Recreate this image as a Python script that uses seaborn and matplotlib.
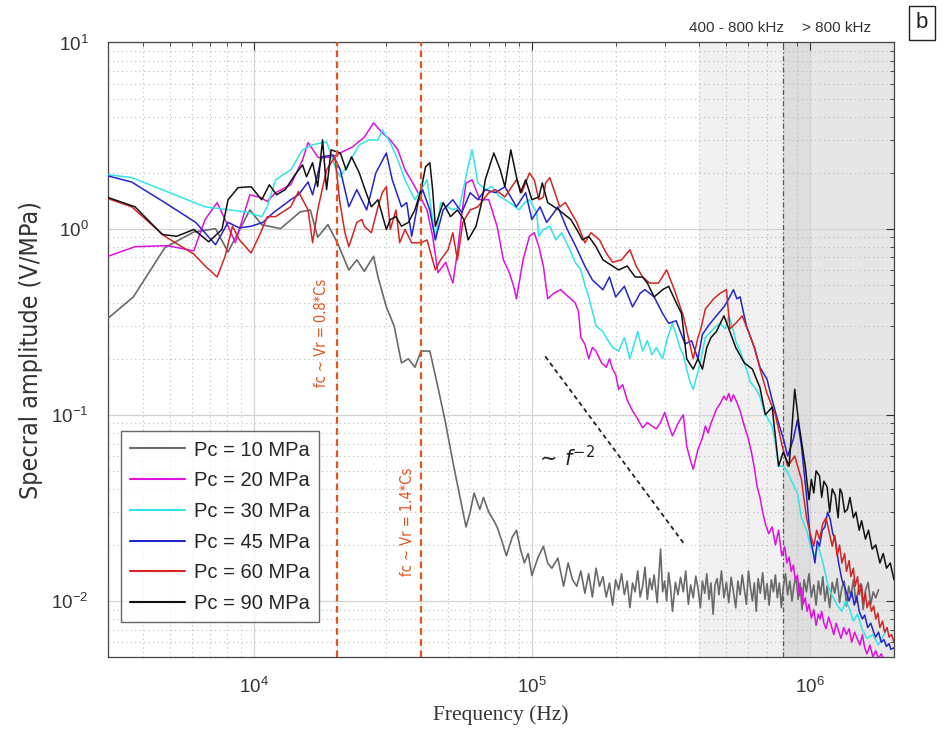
import numpy as np
import pandas as pd
import matplotlib
matplotlib.use("Agg")
import matplotlib.pyplot as plt
from matplotlib.ticker import LogLocator, NullFormatter
import seaborn as sns

# ---------------------------------------------------------------- data
# frequencies in kHz, spectral amplitudes in V/MPa
PC10_F = [3.0, 3.7, 4.8, 6.1, 7.3, 8.1, 9.7, 10.7, 12.5, 14.7, 16.0, 17.0, 18.5, 20.0, 22.0, 23.5, 25.0, 27.0, 28.0,
          30.0, 32.0, 34.0, 36.0, 38.0, 40.0, 43.0, 46.0, 49.0, 52.0, 55.0, 58.0, 60, 62, 65, 67, 70, 73, 75, 78, 81,
          85, 88, 91, 94, 97, 100, 105, 110, 114, 118, 124, 130, 135, 140, 145, 150, 155, 160, 165, 170, 175, 180,
          185, 190, 195, 200, 205, 210, 215, 220, 225, 230, 235, 240, 245, 250, 255, 260, 265, 270, 275, 282, 290,
          295, 300, 305, 310, 315, 320, 328, 335, 342, 350, 357, 365, 372, 380, 388, 395, 403, 410, 418, 425, 433,
          440, 448, 455, 463, 470, 480, 490, 500, 510, 520, 530, 540, 550, 560, 570, 580, 590, 600, 610, 620, 630,
          640, 650, 662, 675, 688, 700, 712, 725, 738, 750, 762, 775, 788, 800, 815, 830, 845, 860, 875, 890, 905,
          920, 935, 950, 970, 990, 1010, 1030, 1050, 1070, 1090, 1110, 1130, 1150, 1175, 1200, 1225, 1250, 1275,
          1300, 1325, 1350, 1375, 1400, 1430, 1460, 1490, 1520, 1550, 1580, 1615, 1650, 1685, 1720, 1760, 1800,
          1840, 1880, 1920, 1960, 2000]
PC10_A = [0.33, 0.43, 0.79, 0.96, 1.0, 0.75, 1.26, 1.05, 1.0, 1.23, 1.26, 0.9, 1.05, 0.84, 0.6, 0.68, 0.59, 0.71, 0.55,
          0.38, 0.30, 0.19, 0.20, 0.18, 0.22, 0.22, 0.14, 0.09, 0.056, 0.037, 0.025, 0.030, 0.038, 0.031, 0.036, 0.030,
          0.027, 0.025, 0.021, 0.0175, 0.022, 0.024, 0.019, 0.016, 0.018, 0.0137, 0.017, 0.0197, 0.016, 0.015, 0.017,
          0.012, 0.016, 0.013, 0.012, 0.0145, 0.011, 0.014, 0.0105, 0.015, 0.012, 0.0135, 0.0105, 0.0125, 0.0095,
          0.013, 0.0115, 0.014, 0.0108, 0.0128, 0.0092, 0.0125, 0.0112, 0.0145, 0.0105, 0.012, 0.0152, 0.0102, 0.0132,
          0.0115, 0.0138, 0.0098, 0.019, 0.0112, 0.0128, 0.0100, 0.0142, 0.0118, 0.0088, 0.0126, 0.0108, 0.0134,
          0.0112, 0.0145, 0.0096, 0.0122, 0.0104, 0.0136, 0.0118, 0.0092, 0.0128, 0.0110, 0.0140, 0.0102, 0.0125,
          0.0085, 0.0122, 0.0132, 0.0108, 0.0145, 0.0104, 0.0126, 0.0098, 0.0134, 0.0112, 0.0092, 0.0128, 0.0108,
          0.0138, 0.0115, 0.0096, 0.0145, 0.0118, 0.0100, 0.0125, 0.0088, 0.0132, 0.0110, 0.0142, 0.0102, 0.0124,
          0.0095, 0.0130, 0.0112, 0.0138, 0.0104, 0.0125, 0.0092, 0.0118, 0.0140, 0.0108, 0.0128, 0.0100, 0.0122,
          0.0135, 0.0102, 0.0125, 0.0090, 0.0130, 0.0112, 0.0140, 0.0105, 0.0122, 0.0095, 0.0128, 0.0108, 0.0135,
          0.0100, 0.0120, 0.0092, 0.0126, 0.0110, 0.0132, 0.0098, 0.0118, 0.0128, 0.0094, 0.0120, 0.0105, 0.0130,
          0.0098, 0.0116, 0.0124, 0.0090, 0.0114, 0.0126, 0.0096, 0.0112, 0.0104, 0.0115]

PC20_F = [3.0, 3.75, 4.9, 6.1, 6.7, 7.4, 7.9, 8.6, 9.7, 10.6, 11.2, 12.0, 13.6, 15.0, 15.7, 17.0, 17.3, 19.3, 21.0,
          22.7, 25.0, 27.0, 29.0, 31.0, 33.0, 35.0, 37.0, 39.0, 42.0, 44.0, 46.0, 49.0, 52.0, 54.0, 56.0, 58.0, 61.0,
          65.0, 70.0, 75.0, 79.0, 83.0, 86.0, 88.0, 93.0, 98.0, 102, 106, 110, 114, 120, 127, 133, 138, 143, 147,
          150, 155, 160, 165, 170, 178, 185, 190, 195, 200, 205, 212, 220, 230, 240, 250, 260, 270, 280, 290, 300,
          310, 320, 335, 350, 360, 370, 380, 395, 410, 420, 430, 440, 450, 460, 475, 490, 500, 510, 520, 530, 545,
          560, 580, 600, 615, 630, 645, 660, 675, 690, 710, 730, 750, 770, 790, 810, 825, 840, 855, 870, 885, 900,
          915, 930, 945, 960, 975, 990, 1010, 1030, 1050, 1070, 1085, 1100, 1120, 1140, 1165, 1190, 1215, 1240,
          1265, 1290, 1320, 1350, 1380, 1410, 1445, 1480, 1510, 1540, 1570, 1600, 1640, 1680, 1720, 1760, 1800,
          1850, 1900, 1930, 1960, 2000]
PC20_A = [0.71, 0.80, 0.81, 0.76, 1.12, 1.38, 1.12, 0.84, 1.52, 1.47, 1.40, 1.56, 1.72, 2.34, 2.9, 2.43, 2.4, 2.43, 2.6,
          2.75, 3.1, 3.7, 3.27, 3.0, 2.65, 2.07, 1.8, 1.56, 1.26, 0.91, 0.58, 0.66, 0.51, 0.74, 1.2, 1.76, 1.83,
          1.43, 1.43, 1.03, 0.68, 0.58, 0.49, 0.42, 0.68, 0.91, 0.95, 0.80, 0.63, 0.42, 0.45, 0.47, 0.44, 0.42, 0.40,
          0.36, 0.26, 0.24, 0.20, 0.23, 0.22, 0.19, 0.18, 0.20, 0.176, 0.165, 0.137, 0.145, 0.12, 0.105, 0.095,
          0.085, 0.091, 0.087, 0.084, 0.091, 0.103, 0.088, 0.077, 0.09, 0.10, 0.068, 0.058, 0.051, 0.065, 0.075,
          0.087, 0.08, 0.09, 0.098, 0.107, 0.115, 0.126, 0.12, 0.13, 0.118, 0.128, 0.117, 0.105, 0.087, 0.074,
          0.063, 0.052, 0.041, 0.036, 0.030, 0.026, 0.023, 0.025, 0.020, 0.024, 0.0175, 0.0195, 0.0160, 0.0172,
          0.0144, 0.0156, 0.0128, 0.0138, 0.0107, 0.0118, 0.0096, 0.0104, 0.0088, 0.0096, 0.0081, 0.0090, 0.0074,
          0.0085, 0.0080, 0.0088, 0.0076, 0.0071, 0.0082, 0.0074, 0.0066, 0.0076, 0.0069, 0.0063, 0.0072, 0.0066,
          0.0071, 0.0060, 0.0068, 0.0062, 0.0058, 0.0066, 0.0056, 0.0052, 0.0058, 0.0050, 0.0054, 0.0049, 0.0052,
          0.0048, 0.0046]

PC30_F = [3.0, 3.65, 5.0, 6.7, 8.2, 9.4, 10.7, 11.2, 12.0, 13.6, 15.0, 16.3, 18.3, 19.7, 20.5, 22.0, 24.0, 26.0, 28.0,
          29.0, 31.0, 33.0, 35.0, 38.0, 40.0, 42.0, 43.5, 45.0, 47.0, 52.0, 55.0, 59.0, 61.0, 64.0, 68.0, 72.0, 76.0,
          80.0, 85.0, 90.0, 94.0, 98.0, 104, 106, 110, 116, 122, 128, 137, 143, 150, 155, 160, 165, 170, 180, 188,
          195, 205, 215, 225, 240, 250, 260, 270, 280, 295, 305, 320, 330, 340, 350, 360, 370, 380, 395, 405, 420,
          440, 460, 475, 495, 510, 525, 540, 560, 580, 610, 640, 660, 680, 705, 730, 750, 770, 800, 830, 870, 900,
          930, 970, 1000, 1035, 1070, 1100, 1130, 1160, 1200, 1250, 1300, 1340, 1380, 1430, 1480, 1540, 1600, 1680,
          1760, 1820, 1880, 1940, 2000]
PC30_A = [1.95, 1.88, 1.56, 1.31, 1.26, 1.23, 1.16, 1.31, 1.83, 2.07, 2.65, 2.82, 2.93, 2.12, 1.9, 2.26, 2.82, 3.0, 2.99,
          3.4, 2.89, 2.34, 1.83, 1.43, 1.62, 1.83, 1.26, 0.87, 1.38, 1.26, 1.31, 2.15, 2.65, 1.76, 1.62, 1.68, 1.5,
          1.43, 1.35, 1.26, 1.38, 1.43, 1.22, 0.91, 0.99, 1.03, 0.87, 0.95, 0.77, 0.66, 0.60, 0.50, 0.43, 0.36, 0.30,
          0.28, 0.25, 0.23, 0.22, 0.26, 0.20, 0.28, 0.22, 0.25, 0.21, 0.23, 0.20, 0.25, 0.31, 0.27, 0.23, 0.21, 0.176,
          0.15, 0.137, 0.17, 0.20, 0.26, 0.28, 0.30, 0.31, 0.29, 0.34, 0.30, 0.25, 0.22, 0.19, 0.15, 0.137, 0.125,
          0.107, 0.095, 0.087, 0.07, 0.053, 0.053, 0.049, 0.042, 0.038, 0.028, 0.024, 0.020, 0.0175, 0.0197, 0.017,
          0.0144, 0.012, 0.0107, 0.0095, 0.0088, 0.010, 0.0092, 0.0078, 0.0085, 0.0070, 0.0063, 0.0066, 0.0058,
          0.0064, 0.0070]

PC45_F = [3.0, 3.65, 4.8, 6.2, 7.3, 8.1, 8.9, 9.8, 10.8, 11.8, 13.6, 14.5, 15.7, 16.3, 17.6, 19.3, 20.5, 22.0, 23.5,
          25.5, 27.5, 30.0, 31.5, 34.0, 35.5, 37.0, 39.0, 40.5, 43.0, 45.0, 48.0, 52.0, 56.0, 60.0, 64.0, 68.0, 74.0,
          80.0, 88.0, 95.0, 100, 107, 113, 120, 124, 134, 144, 155, 165, 180, 190, 200, 215, 230, 245, 255, 275, 295,
          310, 330, 355, 375, 395, 410, 430, 460, 490, 510, 530, 545, 560, 590, 630, 660, 700, 730, 770, 800, 830,
          870, 900, 930, 970, 1000, 1020, 1040, 1060, 1080, 1105, 1130, 1155, 1180, 1205, 1230, 1265, 1300, 1340,
          1380, 1410, 1440, 1470, 1500, 1540, 1570, 1610, 1650, 1690, 1720, 1760, 1800, 1840, 1880, 1920, 1950, 2000]
PC45_A = [1.92, 1.78, 1.38, 1.08, 0.82, 1.08, 1.01, 1.03, 1.08, 1.22, 1.43, 1.52, 1.78, 1.52, 2.43, 2.49, 2.07, 1.31,
          1.62, 1.26, 1.99, 2.55, 1.83, 1.31, 1.38, 0.91, 1.38, 1.62, 1.26, 0.87, 1.26, 1.43, 1.22, 1.56, 1.43, 1.62,
          1.56, 1.68, 1.31, 1.56, 1.12, 1.31, 1.08, 1.22, 1.31, 0.99, 0.80, 0.63, 0.53, 0.47, 0.55, 0.43, 0.49, 0.38,
          0.45, 0.47, 0.43, 0.35, 0.31, 0.32, 0.24, 0.25, 0.20, 0.27, 0.30, 0.34, 0.38, 0.42, 0.47, 0.42, 0.43, 0.30,
          0.23, 0.18, 0.155, 0.12, 0.09, 0.075, 0.06, 0.074, 0.094, 0.068, 0.037, 0.022, 0.0190, 0.0160, 0.0210,
          0.0197, 0.0240, 0.0250, 0.0300, 0.0275, 0.0230, 0.0215, 0.0160, 0.0130, 0.0115, 0.0100, 0.0112, 0.0095,
          0.0106, 0.0088, 0.0080, 0.0084, 0.0072, 0.0076, 0.0068, 0.0064, 0.0068, 0.0060, 0.0062, 0.0057, 0.0059,
          0.0055, 0.0056, 0.0054]

PC60_F = [3.0, 3.65, 4.8, 6.1, 6.7, 7.4, 7.9, 8.4, 8.9, 9.8, 10.6, 11.2, 12.0, 13.6, 14.5, 15.7, 16.3, 17.0, 18.3,
          19.6, 20.4, 21.3, 22.0, 23.5, 24.5, 25.0, 26.5, 28.0, 29.0, 30.0, 31.0, 32.5, 33.5, 35.0, 37.0, 40.0, 42.0,
          45.0, 47.0, 50.0, 52.0, 54.0, 56.5, 60.0, 64.0, 70.0, 74.0, 80.0, 88.0, 92.0, 98.0, 102, 106, 110, 112,
          116, 121, 126, 132, 145, 155, 163, 175, 185, 195, 210, 225, 237, 250, 265, 285, 305, 325, 350, 365, 380,
          395, 405, 420, 450, 475, 500, 515, 540, 570, 600, 630, 665, 700, 750, 790, 830, 880, 930, 970, 1000, 1030,
          1055, 1080, 1110, 1140, 1170, 1200, 1225, 1250, 1275, 1300, 1330, 1350, 1380, 1400, 1430, 1450, 1480, 1500,
          1530, 1550, 1580, 1600, 1630, 1660, 1690, 1720, 1750, 1780, 1820, 1850, 1890, 1920, 1960, 2000]
PC60_A = [1.45, 1.31, 0.91, 0.73, 0.63, 0.55, 0.71, 1.03, 0.87, 0.74, 0.95, 1.16, 1.16, 1.31, 1.58, 1.26, 0.84, 1.26,
          2.07, 2.43, 1.4, 0.95, 0.80, 1.08, 1.12, 1.03, 0.95, 1.31, 1.56, 1.68, 0.99, 1.26, 0.84, 0.99, 0.84, 0.84,
          0.87, 0.60, 0.68, 0.77, 0.95, 0.68, 1.08, 1.26, 1.31, 1.56, 1.62, 1.48, 1.83, 1.56, 1.99, 1.83, 1.43, 1.48,
          1.76, 1.88, 1.56, 1.31, 1.38, 1.08, 0.84, 0.95, 0.87, 0.74, 0.66, 0.68, 0.77, 0.63, 0.55, 0.51, 0.51, 0.60,
          0.47, 0.34, 0.26, 0.20, 0.26, 0.29, 0.37, 0.42, 0.45, 0.47, 0.29, 0.31, 0.34, 0.28, 0.23, 0.17, 0.13, 0.10,
          0.07, 0.053, 0.06, 0.045, 0.028, 0.0230, 0.0197, 0.0240, 0.0215, 0.0260, 0.0280, 0.0235, 0.0197, 0.0225,
          0.0175, 0.0200, 0.0160, 0.0180, 0.0144, 0.0165, 0.0135, 0.0150, 0.0120, 0.0135, 0.0108, 0.0122, 0.0098,
          0.0110, 0.0092, 0.0100, 0.0088, 0.0094, 0.0080, 0.0086, 0.0072, 0.0078, 0.0068, 0.0072, 0.0064, 0.0066,
          0.0060]

PC90_F = [3.0, 3.75, 4.7, 5.3, 6.1, 6.9, 7.7, 8.1, 8.8, 9.8, 10.7, 11.4, 12.1, 13.0, 14.1, 15.0, 15.5, 16.3, 17.0,
          17.7, 18.3, 19.0, 20.5, 21.5, 22.5, 24.0, 25.0, 26.5, 28.0, 30.0, 31.0, 32.5, 34.0, 36.0, 38.0, 40.0, 41.5,
          43.0, 44.0, 45.0, 48.0, 51.0, 54.0, 57.0, 59.0, 63.0, 66.0, 68.0, 73.0, 77.0, 80.0, 84.0, 88.0, 91.0, 95.0,
          100, 106, 109, 114, 125, 138, 145, 152, 160, 170, 180, 195, 205, 220, 235, 250, 260, 275, 295, 310, 330,
          345, 360, 380, 395, 410, 425, 440, 460, 490, 510, 540, 580, 620, 660, 690, 730, 770, 800, 840, 880, 910,
          960, 990, 1010, 1030, 1050, 1080, 1100, 1120, 1150, 1175, 1200, 1230, 1260, 1280, 1300, 1330, 1360, 1390,
          1430, 1460, 1500, 1530, 1580, 1620, 1670, 1720, 1780, 1830, 1880, 1940, 2000]
PC90_A = [1.47, 1.31, 0.93, 0.91, 0.99, 0.85, 0.99, 1.43, 1.66, 1.68, 1.43, 1.72, 1.52, 1.62, 1.95, 2.2, 1.9, 2.26,
          1.68, 3.0, 1.62, 2.65, 2.55, 2.07, 2.43, 1.99, 1.66, 1.31, 1.43, 0.99, 1.12, 1.16, 1.03, 1.08, 1.26, 1.62,
          2.15, 2.26, 1.62, 1.03, 1.38, 1.16, 1.26, 1.12, 0.87, 1.03, 1.38, 1.83, 2.55, 2.07, 1.68, 2.65, 1.9, 1.56,
          1.83, 1.43, 1.48, 1.76, 1.38, 1.26, 1.12, 0.99, 0.87, 0.91, 0.80, 0.68, 0.63, 0.60, 0.63, 0.55, 0.55, 0.51,
          0.43, 0.47, 0.49, 0.40, 0.35, 0.20, 0.176, 0.20, 0.176, 0.23, 0.26, 0.28, 0.34, 0.29, 0.23, 0.19, 0.176,
          0.14, 0.10, 0.11, 0.053, 0.063, 0.053, 0.137, 0.09, 0.053, 0.035, 0.045, 0.038, 0.050, 0.047, 0.036, 0.044,
          0.041, 0.030, 0.040, 0.037, 0.028, 0.040, 0.038, 0.030, 0.031, 0.036, 0.028, 0.030, 0.024, 0.027, 0.0215,
          0.024, 0.019, 0.020, 0.016, 0.018, 0.015, 0.016, 0.013]

LABELS = ["Pc = 10 MPa", "Pc = 20 MPa", "Pc = 30 MPa", "Pc = 45 MPa", "Pc = 60 MPa", "Pc = 90 MPa"]
FREQS = [PC10_F, PC20_F, PC30_F, PC45_F, PC60_F, PC90_F]
AMPS = [PC10_A, PC20_A, PC30_A, PC45_A, PC60_A, PC90_A]
COLORS = ["#6a6a6a", "#e010e0", "#30e6e6", "#2424cc", "#d62424", "#111111"]
WIDTHS = [1.2, 1.1, 1.1, 1.1, 1.1, 1.1]

# corner frequencies (kHz) and the f^-2 guide line end points (kHz, V/MPa)
FC_LINES = [20.0, 40.0]
FC_TEXT = ["fc ~ Vr = 0.8*Cs", "fc ~ Vr = 1.4*Cs"]
GUIDE_F = [111.7, 353.0]
GUIDE_A = [0.206, 0.0202]

# ---------------------------------------------------------------- frame
sns.set_theme(style="white")
plt.rcParams["font.family"] = ["Liberation Sans", "DejaVu Sans"]
plt.rcParams["mathtext.fontset"] = "dejavusans"

rows = []
for lab, fr, am in zip(LABELS, FREQS, AMPS):
    for f, a in zip(fr, am):
        rows.append((lab, f * 1e3, a))
df = pd.DataFrame(rows, columns=["series", "freq", "amp"])

fig = plt.figure(figsize=(9.45, 7.44), dpi=100)
ax = fig.add_axes([0.1143, 0.1169, 0.8317, 0.826])

# frequency bands
ax.axvspan(4e5, 8e5, color="#f1f1f1", zorder=0, lw=0)
ax.axvspan(8e5, 1e6, color="#dddddd", zorder=0, lw=0)
ax.axvspan(1e6, 2.1e6, color="#e6e6e6", zorder=0, lw=0)
ax.axvline(8e5, color="#555555", lw=0.9, ls=(0, (4, 2, 1, 2)), zorder=1)

for lab, col, lw in zip(LABELS, COLORS, WIDTHS):
    sub = df[df["series"] == lab]
    sns.lineplot(data=sub, x="freq", y="amp", color=col, lw=lw, label=lab,
                 estimator=None, sort=False, ax=ax, zorder=3)

ax.set_xscale("log")
ax.set_yscale("log")
ax.set_xlim(3e3, 2e6)
ax.set_ylim(5e-3, 10)

narrow = dict(family="DejaVu Sans", fontstretch="condensed")

# corner-frequency markers
for fc, txt, xt, yt in zip(FC_LINES, FC_TEXT, [17.6e3, 35.7e3], [0.277, 0.0265]):
    ax.axvline(fc * 1e3, color="#e2531f", lw=1.6, ls=(0, (3, 2)), zorder=4)
    ax.text(xt, yt, txt, rotation=90, ha="center", va="center", color="#e2531f",
            fontsize=10.5, **narrow)

ax.plot([g * 1e3 for g in GUIDE_F], GUIDE_A, color="#222222", lw=1.3, ls=(0, (2.5, 2)), zorder=4)
ax.text(1.32e5, 0.059, r"$\sim\,f^{-2}$", fontsize=15, ha="center", va="center", color="#222222")

# grid & ticks
ax.xaxis.set_major_locator(LogLocator(base=10, numticks=10))
ax.yaxis.set_major_locator(LogLocator(base=10, numticks=10))
ax.xaxis.set_minor_locator(LogLocator(base=10, subs=np.arange(2, 10), numticks=50))
ax.yaxis.set_minor_locator(LogLocator(base=10, subs=np.arange(2, 10), numticks=50))
ax.xaxis.set_minor_formatter(NullFormatter())
ax.yaxis.set_minor_formatter(NullFormatter())
ax.grid(True, which="major", color="#d4d4d4", lw=0.9, ls="-", zorder=1)
ax.grid(True, which="minor", color="#bdbdbd", lw=0.8, ls=(0, (1, 3)), zorder=1)
ax.set_axisbelow(True)
ax.tick_params(which="both", direction="in", top=True, right=True, color="#333333")
ax.tick_params(which="major", length=6, width=0.8, labelsize=13.5, colors="#333333")
ax.tick_params(axis="x", which="major", pad=14)
ax.tick_params(axis="y", which="major", pad=14)
ax.tick_params(which="minor", length=3, width=0.6)
for s in ax.spines.values():
    s.set_color("#444444")
    s.set_linewidth(0.9)

ax.set_xlabel("Frequency (Hz)", fontsize=15.5, family=["Liberation Serif", "DejaVu Serif"],
              color="#333333", labelpad=6)
ax.set_ylabel("Specral amplitude (V/MPa)", fontsize=18, color="#333333", labelpad=6, **narrow)

leg = ax.legend(loc="lower left", bbox_to_anchor=(0.0165, 0.057), borderaxespad=0, fontsize=14.5,
                frameon=True, fancybox=False, edgecolor="#444444", handlelength=2.75, labelspacing=0.58,
                borderpad=0.45, handletextpad=0.45)
leg.get_frame().set_linewidth(1.0)
for line in leg.get_lines():
    line.set_linewidth(1.5)

fig.text(737 / 945, 1 - 28 / 744, "400 - 800 kHz", ha="center", va="center", fontsize=11, color="#333333")
fig.text(837 / 945, 1 - 28 / 744, "> 800 kHz", ha="center", va="center", fontsize=11, color="#333333")
fig.text(922 / 945, 1 - 23 / 744, "b", ha="center", va="center", fontsize=16, color="#222222",
         bbox=dict(boxstyle="square,pad=0.3", fc="white", ec="#222222", lw=1.0))

fig.savefig("out.png", dpi=100, facecolor="white")
